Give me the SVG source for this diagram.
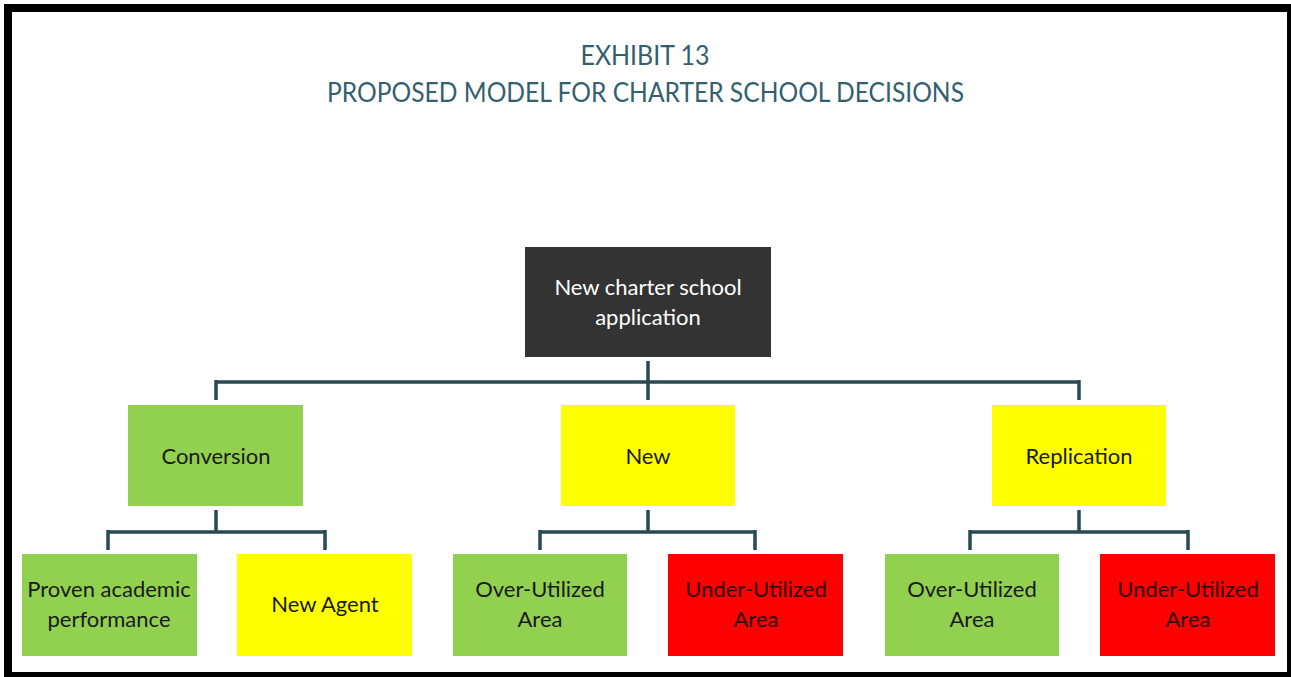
<svg xmlns="http://www.w3.org/2000/svg" width="1291" height="677" viewBox="0 0 1291 677">
<style>
.title{font-family:Lato,"Liberation Sans",sans-serif;font-size:26px;fill:#33606f;text-anchor:middle}
.lbl{font-family:Lato,"Liberation Sans",sans-serif;font-size:22px;fill:#1a1a1a;text-anchor:middle}
.wh{fill:#ffffff}
.rd{fill:#2a0000}
.green{fill:#92d050}
.yellow{fill:#ffff00}
.red{fill:#ff0000}
.dark{fill:#333333}
.conn{stroke:#284a50;stroke-width:3.5;fill:none}
</style>
<rect x="0" y="0" width="1291" height="677" fill="#ffffff"/>
<rect x="4" y="4" width="1287" height="673" fill="#000000"/>
<rect x="12" y="12" width="1275" height="660" fill="#ffffff"/>
<g id="title">
<text class="title" x="645" y="65" textLength="129" lengthAdjust="spacingAndGlyphs">EXHIBIT 13</text>
<text class="title" x="645.5" y="102" textLength="637" lengthAdjust="spacingAndGlyphs">PROPOSED MODEL FOR CHARTER SCHOOL DECISIONS</text>
</g>
<g id="connectors">
<path class="conn" d="M648 361V382M216 382H1079M216 380V400M648 380V400M1079 380V400"/>
<path class="conn" d="M216 510V532M108 532H325M108 530V550M325 530V550"/>
<path class="conn" d="M648 510V532M540 532H755M540 530V550M755 530V550"/>
<path class="conn" d="M1079 510V532M970 532H1188M970 530V550M1188 530V550"/>
</g>
<g id="root">
<rect class="dark" x="525" y="247" width="246" height="110"/>
<text class="lbl wh" x="648" y="295">New charter school</text>
<text class="lbl wh" x="648" y="325">application</text>
</g>
<g id="conversion">
<rect class="green" x="128" y="405" width="175" height="101"/>
<text class="lbl" x="216" y="464">Conversion</text>
</g>
<g id="new">
<rect class="yellow" x="561" y="405" width="174" height="101"/>
<text class="lbl" x="648" y="464">New</text>
</g>
<g id="replication">
<rect class="yellow" x="992" y="405" width="174" height="101"/>
<text class="lbl" x="1079" y="464">Replication</text>
</g>
<g id="proven">
<rect class="green" x="22" y="554" width="175" height="102"/>
<text class="lbl" x="109" y="597">Proven academic</text>
<text class="lbl" x="109" y="627">performance</text>
</g>
<g id="newagent">
<rect class="yellow" x="237" y="554" width="175" height="102"/>
<text class="lbl" x="325" y="612">New Agent</text>
</g>
<g id="new-over">
<rect class="green" x="453" y="554" width="174" height="102"/>
<text class="lbl" x="540" y="597">Over-Utilized</text>
<text class="lbl" x="540" y="627">Area</text>
</g>
<g id="new-under">
<rect class="red" x="668" y="554" width="175" height="102"/>
<text class="lbl rd" x="756" y="597">Under-Utilized</text>
<text class="lbl rd" x="756" y="627">Area</text>
</g>
<g id="rep-over">
<rect class="green" x="885" y="554" width="174" height="102"/>
<text class="lbl" x="972" y="597">Over-Utilized</text>
<text class="lbl" x="972" y="627">Area</text>
</g>
<g id="rep-under">
<rect class="red" x="1100" y="554" width="175" height="102"/>
<text class="lbl rd" x="1188" y="597">Under-Utilized</text>
<text class="lbl rd" x="1188" y="627">Area</text>
</g>
</svg>
